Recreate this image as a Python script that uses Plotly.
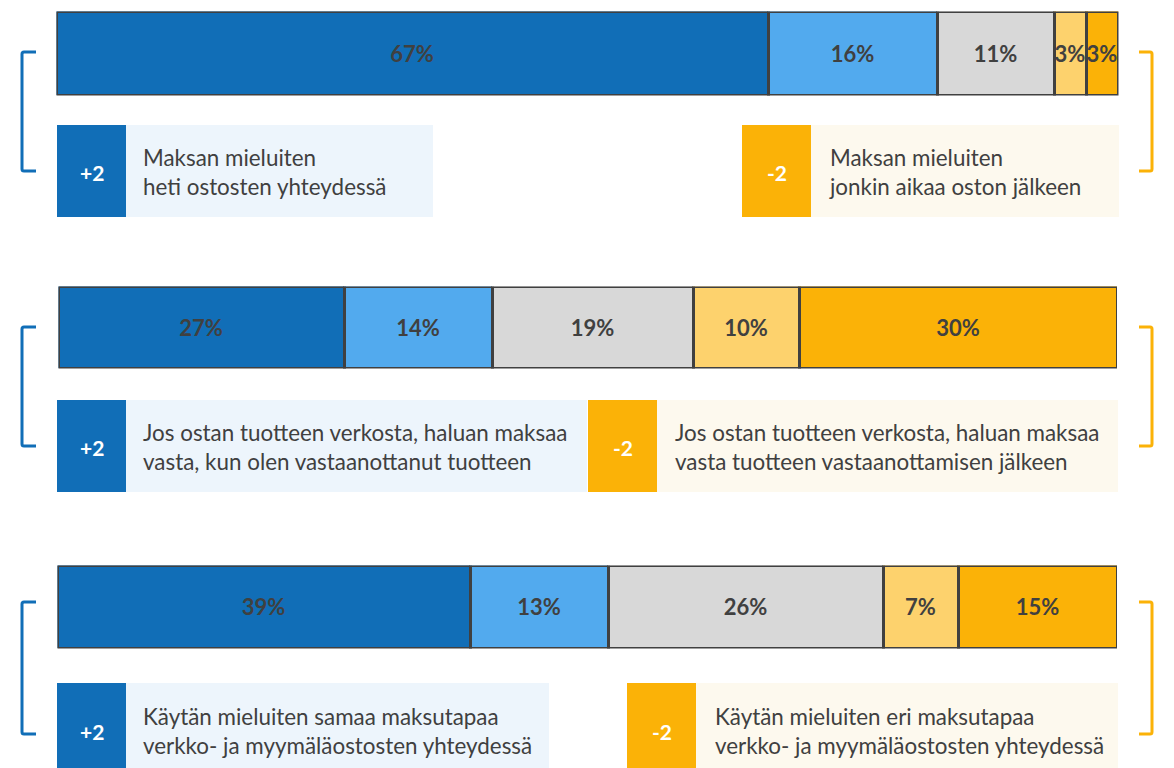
import plotly.graph_objects as go

W, H = 1174, 768

# Response shares per statement, from +2 (left) to -2 (right)
categories = ["+2", "+1", "0", "-1", "-2"]
row1_values = [67, 16, 11, 3, 3]
row2_values = [27, 14, 19, 10, 30]
row3_values = [39, 13, 26, 7, 15]
rows = [row1_values, row2_values, row3_values]

left_texts = [
    "Maksan mieluiten<br>heti ostosten yhteydessä",
    "Jos ostan tuotteen verkosta, haluan maksaa<br>vasta, kun olen vastaanottanut tuotteen",
    "Käytän mieluiten samaa maksutapaa<br>verkko- ja myymäläostosten yhteydessä",
]
right_texts = [
    "Maksan mieluiten<br>jonkin aikaa oston jälkeen",
    "Jos ostan tuotteen verkosta, haluan maksaa<br>vasta tuotteen vastaanottamisen jälkeen",
    "Käytän mieluiten eri maksutapaa<br>verkko- ja myymäläostosten yhteydessä",
]

seg_colors = ["#116EB7", "#52AAEE", "#D8D8D8", "#FDD26D", "#FBB207"]
DARK = "#404040"
BLUE = "#116EB7"
ORANGE = "#FBB207"
FONT = "Lato"


def px(x):
    return x / W


def py(y):
    return 1 - y / H


# bar placement in pixels: (x0, x1, y_top, y_bottom)
bar_boxes = [
    (56.5, 1118.5, 11.5, 95.5),
    (58.5, 1117.0, 286.5, 368.5),
    (57.5, 1117.0, 565.5, 648.5),
]

fig = go.Figure()
layout_axes = {}
for i, (vals, box) in enumerate(zip(rows, bar_boxes)):
    n = "" if i == 0 else str(i + 1)
    xa, ya = "x" + n, "y" + n
    for cat, v, c in zip(categories, vals, seg_colors):
        fig.add_trace(go.Bar(
            x=[v], y=[0], orientation="h", width=1,
            marker=dict(color=c, line=dict(color=DARK, width=3)),
            text=[f"{v}%"], textposition="inside", insidetextanchor="middle",
            textangle=0,
            textfont=dict(family=FONT, size=22, color=DARK, weight="bold"),
            name=cat, showlegend=False, hoverinfo="skip",
            xaxis=xa, yaxis=ya,
        ))
    x0, x1, yt, yb = box
    layout_axes["xaxis" + n] = dict(domain=[px(x0), px(x1)], range=[0, 100],
                                     visible=False, fixedrange=True,
                                     anchor=ya)
    layout_axes["yaxis" + n] = dict(domain=[py(yb), py(yt)], range=[-0.5, 0.5],
                                     visible=False, fixedrange=True,
                                     anchor=xa)

shapes = []
annotations = []

# statement boxes: (badge_x0, text_box_x1, y0, y1, text_x) per side
left_boxes = [
    (57, 433, 125, 217, 141),
    (57, 587, 400, 492, 141),
    (57, 549, 683, 775, 141),
]
right_boxes = [
    (742, 1119, 125, 217, 827),
    (588, 1118, 400, 492, 673),
    (627, 1118, 683, 775, 713),
]
text_centers = [172, 447, 731]


def add_statement(b, label, text, badge_color, bg_color, yc):
    x0, x1, y0, y1, tx = b
    shapes.append(dict(type="rect", xref="paper", yref="paper",
                       x0=px(x0 + 69), x1=px(x1), y0=py(y1), y1=py(y0),
                       fillcolor=bg_color, line=dict(width=0), layer="below"))
    shapes.append(dict(type="rect", xref="paper", yref="paper",
                       x0=px(x0), x1=px(x0 + 69), y0=py(y1), y1=py(y0),
                       fillcolor=badge_color, line=dict(width=0), layer="below"))
    annotations.append(dict(xref="paper", yref="paper", x=px(x0 + 34.5), y=py(yc),
                            xanchor="center", yanchor="middle",
                            text=f"<b>{label}</b>", showarrow=False,
                            font=dict(family=FONT, size=21, color="white")))
    annotations.append(dict(xref="paper", yref="paper", x=px(tx), y=py(yc),
                            xanchor="left", yanchor="middle", align="left",
                            text=text, showarrow=False,
                            font=dict(family=FONT, size=22.4, color=DARK)))


for i in range(3):
    add_statement(left_boxes[i], "+2", left_texts[i], BLUE, "#EDF5FC", text_centers[i])
    add_statement(right_boxes[i], "-2", right_texts[i], ORANGE, "#FDF9EE", text_centers[i])

# side brackets
bracket_spans = [(52, 171), (327, 446), (602, 734)]
for yt, yb in bracket_spans:
    shapes.append(dict(type="path", xref="paper", yref="paper",
                       path=(f"M {px(36)},{py(yt)} L {px(24)},{py(yt)} Q {px(22)},{py(yt)} {px(22)},{py(yt + 2)} "
                             f"L {px(22)},{py(yb - 2)} Q {px(22)},{py(yb)} {px(24)},{py(yb)} L {px(36)},{py(yb)}"),
                       line=dict(color=BLUE, width=3)))
    shapes.append(dict(type="path", xref="paper", yref="paper",
                       path=(f"M {px(1139)},{py(yt)} L {px(1150)},{py(yt)} Q {px(1152)},{py(yt)} {px(1152)},{py(yt + 2)} "
                             f"L {px(1152)},{py(yb - 2)} Q {px(1152)},{py(yb)} {px(1150)},{py(yb)} L {px(1139)},{py(yb)}"),
                       line=dict(color=ORANGE, width=3)))

fig.update_layout(
    width=W, height=H, margin=dict(l=0, r=0, t=0, b=0),
    paper_bgcolor="white", plot_bgcolor="rgba(0,0,0,0)",
    barmode="stack", bargap=0,
    uniformtext=dict(minsize=22, mode="show"),
    shapes=shapes, annotations=annotations,
    **layout_axes,
)

fig.write_html("out.html")
